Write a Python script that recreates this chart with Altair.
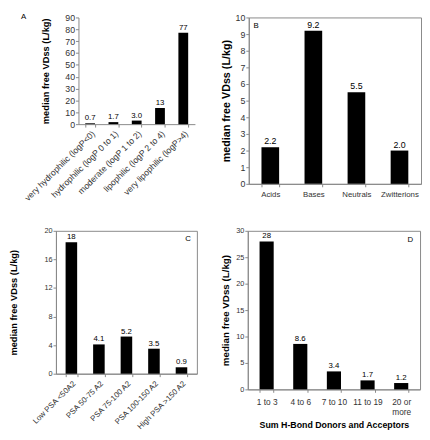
import altair as alt
import pandas as pd

FONT = "Liberation Sans"
YTITLE = "median free VDss (L/kg)"

# Panel A: lipophilicity
a_cats = ["very hydrophilic (logP<0)", "hydrophilic (logP 0 to 1)", "moderate (logP 1 to 2)",
          "lipophilic (logP 2 to 4)", "very lipophilic (logP>4)"]
a_vals = [0.7, 1.7, 3.0, 13.6, 77]
a_labels = ["0.7", "1.7", "3.0", "13", "77"]

# Panel B: ionization class
b_cats = ["Acids", "Bases", "Neutrals", "Zwitterions"]
b_vals = [2.2, 9.2, 5.5, 2.0]
b_labels = ["2.2", "9.2", "5.5", "2.0"]

# Panel C: polar surface area
c_cats = ["Low PSA <50A2", "PSA 50-75 A2", "PSA 75-100 A2", "PSA 100-150 A2", "High PSA >150 A2"]
c_vals = [18.4, 4.1, 5.2, 3.5, 0.9]
c_labels = ["18", "4.1", "5.2", "3.5", "0.9"]

# Panel D: H-bond donors + acceptors
d_cats = ["1 to 3", "4 to 6", "7 to 10", "11 to 19", "20 or more"]
d_vals = [28, 8.6, 3.4, 1.7, 1.2]
d_labels = ["28", "8.6", "3.4", "1.7", "1.2"]


def panel(cats, vals, labels, ymax, ystep, w, h, tick_fs, xlab_fs, angle, ytitle_fs,
          title_pad, val_fs, letter, letter_x, letter_y, xtitle=None, frame=True,
          pi=0.58, po=0.29, label_expr=None, xlab_pad=3, x_range=None, y_offset=None):
    df = pd.DataFrame({"cat": cats, "val": vals, "lab": labels})
    xaxis_kw = dict(labelAngle=angle, labelFontSize=xlab_fs, tickBand="extent",
                    labelPadding=xlab_pad, titleFontSize=9, titleFontWeight="bold",
                    titlePadding=5, labelOverlap=False)
    if angle != 0:
        xaxis_kw.update(labelAlign="right", labelBaseline="top")
    if label_expr:
        xaxis_kw["labelExpr"] = label_expr
    xscale_kw = dict(paddingInner=pi, paddingOuter=po)
    if x_range is not None:
        xscale_kw["range"] = x_range
    x = alt.X("cat:N", sort=cats, title=xtitle, scale=alt.Scale(**xscale_kw),
              axis=alt.Axis(**xaxis_kw))
    tick_vals = list(range(0, ymax + 1, ystep))
    yaxis_kw = dict(values=tick_vals, tickCount=len(tick_vals) + 2, title=YTITLE,
                    labelFontSize=tick_fs, titleFontSize=ytitle_fs,
                    titleFontWeight="bold", titlePadding=title_pad,
                    labelPadding=1, labelOverlap=False)
    if y_offset is not None:
        yaxis_kw["offset"] = y_offset
    y = alt.Y("val:Q", scale=alt.Scale(domain=[0, ymax], nice=False, zero=True),
              axis=alt.Axis(**yaxis_kw))
    bars = alt.Chart(df).mark_bar(color="black").encode(x=x, y=y)
    text = alt.Chart(df).mark_text(baseline="bottom", dy=-1, fontSize=val_fs, font=FONT,
                                   color="black").encode(
        x=alt.X("cat:N", sort=cats), y="val:Q", text="lab:N")
    ldf = pd.DataFrame({"t": [letter]})
    let = alt.Chart(ldf).mark_text(fontSize=8, font=FONT, color="black",
                                   align="center", baseline="middle").encode(
        text="t:N", x=alt.value(letter_x), y=alt.value(letter_y))
    ch = alt.layer(bars, text, let).properties(width=w, height=h)
    if not frame:
        ch = ch.properties(view=alt.ViewBackground(strokeOpacity=0))
    return ch


# A's plot origin is shared with C (first column); its axis sits 23px further right
A = panel(a_cats, a_vals, a_labels, 90, 10, 142, 109, 9, 8.8, -45, 9.5, 15, 8,
          "A", -33, 0, frame=False, pi=0.58, po=0.29, xlab_pad=2,
          x_range=[23, 142], y_offset=-23)
B = panel(b_cats, b_vals, b_labels, 10, 1, 176, 170, 9, 8, 0, 11, 3.5, 9,
          "B", 7.5, 8.5, pi=0.59, po=0.295, xlab_pad=4)
C = panel(c_cats, c_vals, c_labels, 20, 4, 144, 146, 7.5, 8, -45, 9.5, 26, 8,
          "C", 135, 8.5, po=0.35, xlab_pad=3)
D = panel(d_cats, d_vals, d_labels, 30, 5, 176, 162, 7.5, 8.5, 0, 10, 5, 8,
          "D", 166, 9.5, xtitle="Sum H-Bond Donors and Acceptors", po=0.35, xlab_pad=5,
          label_expr="datum.label == '20 or more' ? ['20 or', 'more'] : datum.label")

top = alt.hconcat(A, B, spacing=25)
bottom = alt.hconcat(C, D, spacing=23)
chart = alt.vconcat(top, bottom, spacing=24).properties(
    padding={"left": 0, "top": 0, "right": 0, "bottom": 0}
).configure_view(stroke="#888888", strokeWidth=1).configure_axis(
    domainColor="#888888", tickColor="#888888", tickSize=3, grid=False,
    labelColor="#333333", titleColor="black", labelFont=FONT, titleFont=FONT
).configure_text(font=FONT)

chart.save("out.html", embed_options={"renderer": "svg", "actions": False})
